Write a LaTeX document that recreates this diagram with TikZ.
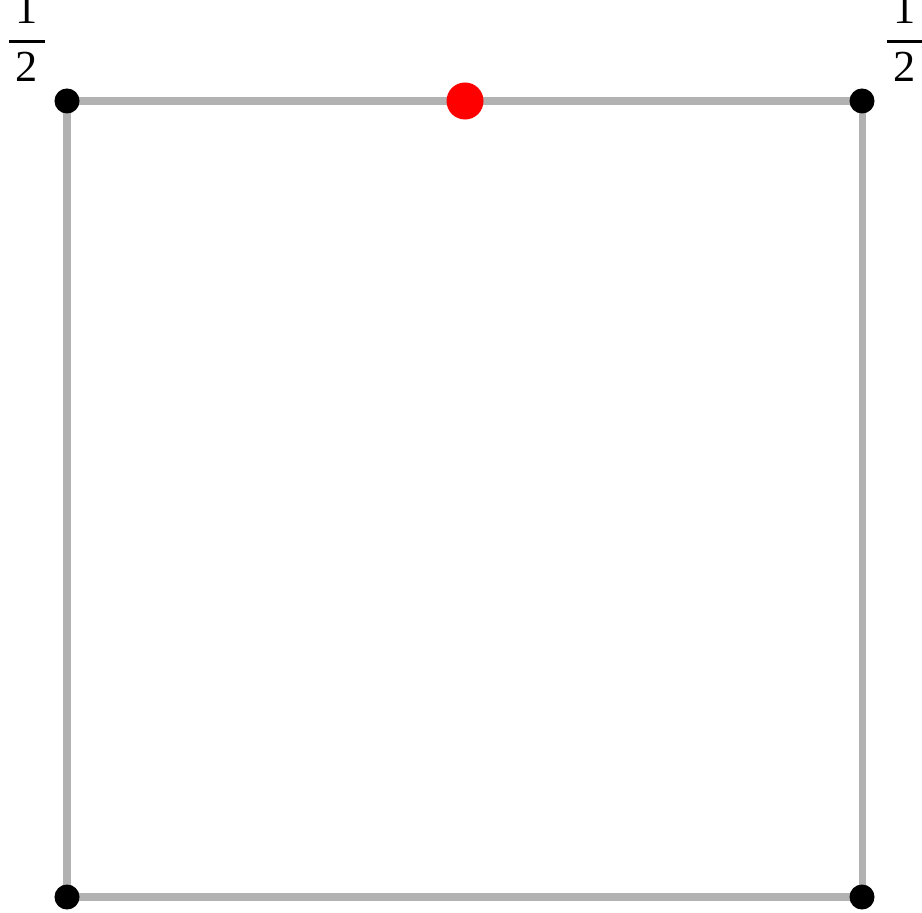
\documentclass[tikz,border=0pt]{standalone}
\usepackage{amsmath}
\usepackage{fontspec}
\setmainfont{Liberation Serif}
\usepackage{tikz}
\usetikzlibrary{positioning}
\definecolor{edgegray}{RGB}{178,178,178}
\newcommand{\halfw}{$\genfrac{}{}{0.8pt}{0}{\,\mbox{\rmfamily 1}\,}{\,\mbox{\rmfamily 2}\,}$}

\begin{document}
\begin{tikzpicture}[
  x=0.01cm, y=0.01cm,
  vertex/.style={circle, fill=black, inner sep=0pt, minimum size=0.25cm},
  redvertex/.style={circle, fill=red, inner sep=0pt, minimum size=0.37cm},
  sqedge/.style={draw=edgegray, line width=2pt},
  weight/.style={inner sep=0pt, font=\fontsize{12.6}{15}\selectfont}
]
  \useasboundingbox (0,0) rectangle (922,912);
  % corners of the square
  \coordinate (tl) at (67,811);
  \coordinate (tr) at (862,811);
  \coordinate (bl) at (67,15);
  \coordinate (br) at (862,15);
  \coordinate (mid) at (465,811);

  \draw[sqedge] (tl) -- (tr) -- (br) -- (bl) -- cycle;

  \node[vertex] (vtl) at (tl) {};
  \node[vertex] (vtr) at (tr) {};
  \node[vertex] (vbl) at (bl) {};
  \node[vertex] (vbr) at (br) {};
  \node[redvertex] (vmid) at (mid) {};

  % weights
  \node[weight] (wtl) at (27,874) {\halfw};
  \node[weight] (wtr) at (905,874) {\halfw};
\end{tikzpicture}
\end{document}
